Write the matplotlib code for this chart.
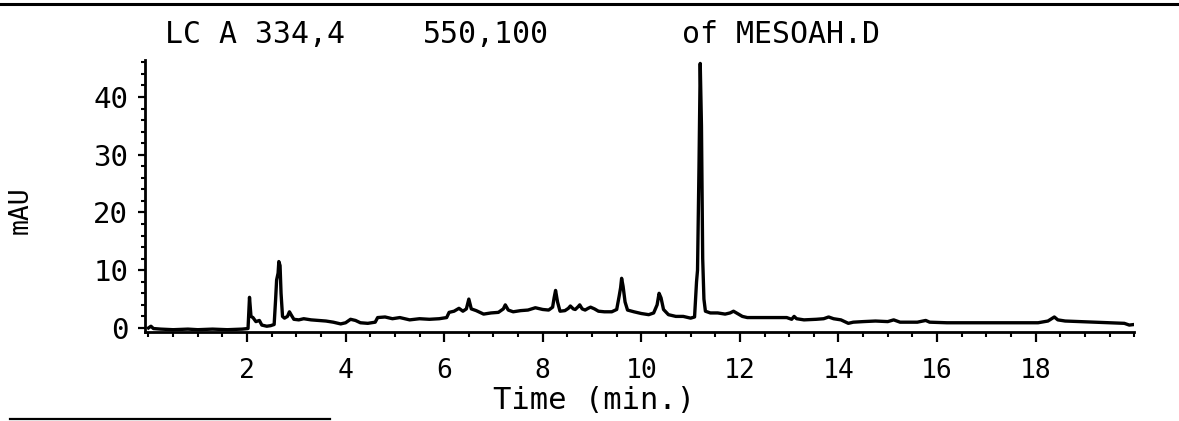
import matplotlib
matplotlib.use('Agg')
import matplotlib.pyplot as plt
from matplotlib.lines import Line2D
from matplotlib.ticker import MultipleLocator

# chromatogram trace, signal A at 334 nm
time_min = [0.00, 0.05, 0.10, 0.25, 0.50, 0.80, 1.00, 1.30, 1.60, 1.90,
            2.02, 2.05, 2.08, 2.12, 2.18, 2.25, 2.30, 2.40, 2.48, 2.55,
            2.58, 2.60, 2.63, 2.645, 2.67, 2.69, 2.72, 2.76, 2.82, 2.86,
            2.90, 2.95, 3.05, 3.15, 3.30, 3.45, 3.60, 3.75, 3.90, 4.00,
            4.10, 4.20, 4.30, 4.45, 4.60, 4.65, 4.80, 4.95, 5.10, 5.30,
            5.50, 5.70, 5.90, 6.05, 6.10, 6.20, 6.30, 6.38, 6.45, 6.50,
            6.55, 6.65, 6.80, 6.95, 7.10, 7.20, 7.24, 7.30, 7.40, 7.55,
            7.70, 7.85, 8.00, 8.12, 8.20, 8.23, 8.26, 8.30, 8.35, 8.45,
            8.52, 8.56, 8.62, 8.66, 8.72, 8.75, 8.80, 8.86, 8.92, 8.97,
            9.05, 9.13, 9.25, 9.40, 9.50, 9.55, 9.58, 9.60, 9.63, 9.67,
            9.72, 9.85, 10.00, 10.15, 10.25, 10.32, 10.36, 10.40, 10.45, 10.55,
            10.70, 10.85, 11.00, 11.08, 11.12, 11.14, 11.17, 11.195, 11.22, 11.245,
            11.27, 11.30, 11.40, 11.55, 11.70, 11.80, 11.87, 11.95, 12.05, 12.15,
            12.40, 12.70, 12.95, 13.05, 13.10, 13.15, 13.30, 13.55, 13.70, 13.80,
            13.90, 14.05, 14.20, 14.30, 14.50, 14.75, 15.00, 15.12, 15.25, 15.60,
            15.77, 15.85, 16.20, 16.60, 17.00, 17.40, 17.80, 18.05, 18.25, 18.38,
            18.45, 18.60, 18.90, 19.20, 19.50, 19.80, 19.90, 20.00]
signal_mau = [0.0, 0.3, -0.1, -0.2, -0.3, -0.2, -0.3, -0.2, -0.3, -0.2,
              -0.1, 5.3, 2.0, 1.8, 1.1, 1.3, 0.5, 0.3, 0.4, 0.6,
              5.0, 8.3, 9.5, 11.5, 10.8, 6.0, 2.0, 1.7, 2.0, 2.8,
              2.2, 1.5, 1.4, 1.6, 1.4, 1.3, 1.2, 1.0, 0.7, 0.9,
              1.5, 1.3, 0.9, 0.8, 1.0, 1.8, 1.9, 1.6, 1.8, 1.4,
              1.6, 1.5, 1.6, 1.8, 2.7, 2.9, 3.4, 2.9, 3.3, 5.0,
              3.3, 3.0, 2.4, 2.6, 2.7, 3.3, 4.0, 3.1, 2.8, 3.0,
              3.1, 3.5, 3.2, 3.1, 3.6, 5.2, 6.5, 4.5, 2.9, 3.0,
              3.4, 3.8, 3.3, 3.2, 3.7, 4.0, 3.3, 3.1, 3.4, 3.6,
              3.3, 2.9, 2.8, 2.8, 3.2, 5.5, 7.0, 8.6, 7.2, 4.5,
              3.1, 2.8, 2.5, 2.3, 2.6, 4.0, 6.0, 5.2, 3.2, 2.3,
              2.0, 2.0, 1.7, 1.9, 8.0, 10.0, 28.0, 45.8, 35.0, 12.0,
              5.0, 2.9, 2.6, 2.6, 2.4, 2.6, 2.9, 2.5, 2.0, 1.8,
              1.8, 1.8, 1.8, 1.5, 2.0, 1.6, 1.4, 1.5, 1.6, 1.9,
              1.6, 1.4, 0.8, 1.0, 1.1, 1.2, 1.1, 1.4, 1.0, 1.0,
              1.3, 1.0, 0.9, 0.9, 0.9, 0.9, 0.9, 0.9, 1.2, 1.9,
              1.4, 1.2, 1.1, 1.0, 0.9, 0.8, 0.5, 0.6]

x_ticks = [2, 4, 6, 8, 10, 12, 14, 16, 18]
y_ticks = [0, 10, 20, 30, 40]

plt.rcParams['font.family'] = ['DejaVu Sans Mono']

fig = plt.figure(figsize=(11.79, 4.21), dpi=100)
ax = fig.add_axes([0.123, 0.2114, 0.839, 0.6461])

ax.plot(time_min, signal_mau, color='black', lw=2.4)

ax.set_xlim(-0.07, 20.0)
ax.set_ylim(-0.7, 46.4)

# plotter style axes: only left and bottom lines with outward ticks
for side in ['top', 'right']:
    ax.spines[side].set_visible(False)
for side in ['left', 'bottom']:
    ax.spines[side].set_linewidth(2.0)

ax.set_xticks(x_ticks)
ax.set_yticks(y_ticks)
ax.xaxis.set_minor_locator(MultipleLocator(0.5))
ax.yaxis.set_minor_locator(MultipleLocator(2))
ax.tick_params(axis='x', which='major', direction='out', length=7,
               width=1.6, labelsize=19, pad=12)
ax.tick_params(axis='x', which='minor', direction='out', length=3.5,
               width=1.5)
ax.tick_params(axis='y', which='major', direction='out', length=5,
               width=1.6, labelsize=21, pad=7)
ax.tick_params(axis='y', which='minor', direction='out', length=3,
               width=1.5)

ax.set_xlabel('Time (min.)', fontsize=22)
ax.xaxis.set_label_coords(0.454, -0.20)
ax.set_ylabel('mAU', fontsize=19)
ax.yaxis.set_label_coords(-0.113, 0.449)

# header line of the report
fig.text(165 / 1179, 1 - 43 / 421, 'LC A 334,4', fontsize=21.5,
         ha='left', va='baseline')
fig.text(423 / 1179, 1 - 43 / 421, '550,100', fontsize=21.5,
         ha='left', va='baseline')
fig.text(682 / 1179, 1 - 43 / 421, 'of MESOAH.D', fontsize=21.5,
         ha='left', va='baseline')

# page rules above and below the plot
fig.add_artist(Line2D([0, 1], [1 - 4 / 421, 1 - 4 / 421],
                      color='black', lw=2.2, transform=fig.transFigure))
fig.add_artist(Line2D([10 / 1179, 330 / 1179], [1 - 419 / 421, 1 - 419 / 421],
                      color='black', lw=1.6, transform=fig.transFigure))

fig.savefig('out.png', dpi=100)
